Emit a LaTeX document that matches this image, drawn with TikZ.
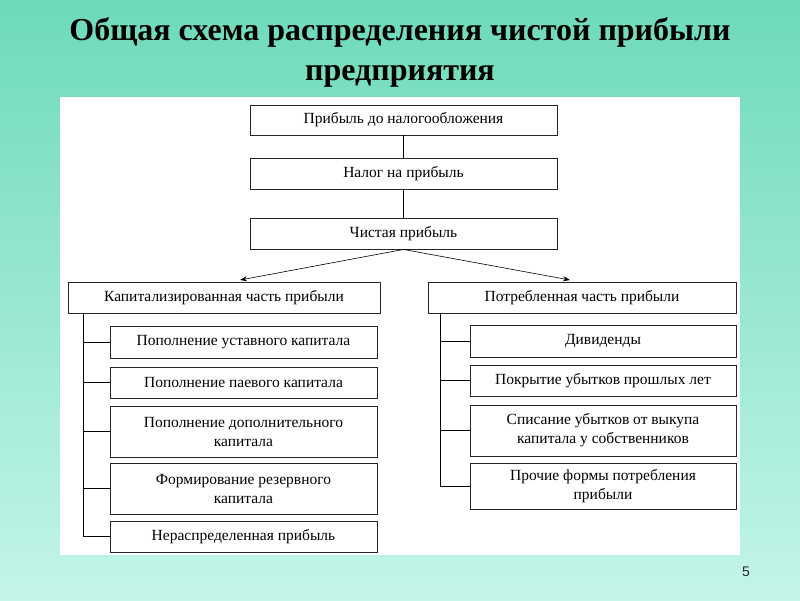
\documentclass[tikz,border=0pt]{standalone}
\usepackage{fontspec}
\setmainfont{Liberation Serif}
\newfontfamily\sans{Liberation Sans}
\usetikzlibrary{arrows.meta}
\begin{document}
\begin{tikzpicture}[x=1pt,y=-1pt,
  bx/.style={draw=black!85,line width=0.9pt,fill=white,inner sep=0pt,font=\fontsize{15.5}{19}\selectfont,align=center},
  ln/.style={line width=0.6pt,black}]
\useasboundingbox (0,0) rectangle (800,600);
\shade[top color={rgb,255:red,110;green,218;blue,185},bottom color={rgb,255:red,195;green,245;blue,232}] (0,0) rectangle (800,600);
\fill[white] (60,97) rectangle (740,555);
\node[font=\bfseries\fontsize{32}{40}\selectfont,align=center] (title) at (400,52) {Общая схема распределения чистой прибыли\\предприятия};
\node[font=\sans\fontsize{14}{16}\selectfont,gray!30!black] (pg) at (746,572) {5};
\newcommand\bxat[6]{\node[bx,minimum width={#4-#2},minimum height={#5-#3}] (#1) at ({(#2+#4)/2},{(#3+#5)/2}) {#6};}
\bxat{a}{250}{105}{557}{135}{Прибыль до налогообложения}
\bxat{b}{250}{158}{557}{189}{Налог на прибыль}
\bxat{c}{250}{218}{557}{249}{Чистая прибыль}
\bxat{L}{68}{282}{380}{313}{Капитализированная часть прибыли}
\bxat{R}{428}{282}{736}{313}{Потребленная часть прибыли}
\bxat{l1}{110}{326}{377}{358}{Пополнение уставного капитала}
\bxat{l2}{110}{367}{377}{398}{Пополнение паевого капитала}
\bxat{l3}{110}{406}{377}{457}{Пополнение дополнительного\\капитала}
\bxat{l4}{110}{463}{377}{514}{Формирование резервного\\капитала}
\bxat{l5}{110}{521}{377}{552}{Нераспределенная прибыль}
\bxat{r1}{470}{325}{736}{357}{Дивиденды}
\bxat{r2}{470}{365}{736}{396}{Покрытие убытков прошлых лет}
\bxat{r3}{470}{405}{736}{456}{Списание убытков от выкупа\\капитала у собственников}
\bxat{r4}{470}{463}{736}{509}{Прочие формы потребления\\прибыли}
\draw[ln] (a.south) -- (b.north);
\draw[ln] (b.south) -- (c.north);
\coordinate (tl) at (240,280);
\coordinate (tr) at (570,280);
\draw[ln,-{Stealth[length=7pt,width=5pt]}] (c.south) -- (tl);
\draw[ln,-{Stealth[length=7pt,width=5pt]}] (c.south) -- (tr);
\coordinate (lt) at (83,313); \coordinate (lb) at (83,536);
\draw[ln] (lt) -- (lb);
\foreach \n in {l1,l2,l3,l4,l5} {\draw[ln] (\n.west) -- (83,0 |- \n.west);}
\coordinate (rt) at (440,313); \coordinate (rb) at (440,487);
\draw[line width=1pt] (rt) -- (rb);
\foreach \n in {r1,r2,r3,r4} {\draw[ln] (\n.west) -- (440,0 |- \n.west);}
\end{tikzpicture}
\end{document}
